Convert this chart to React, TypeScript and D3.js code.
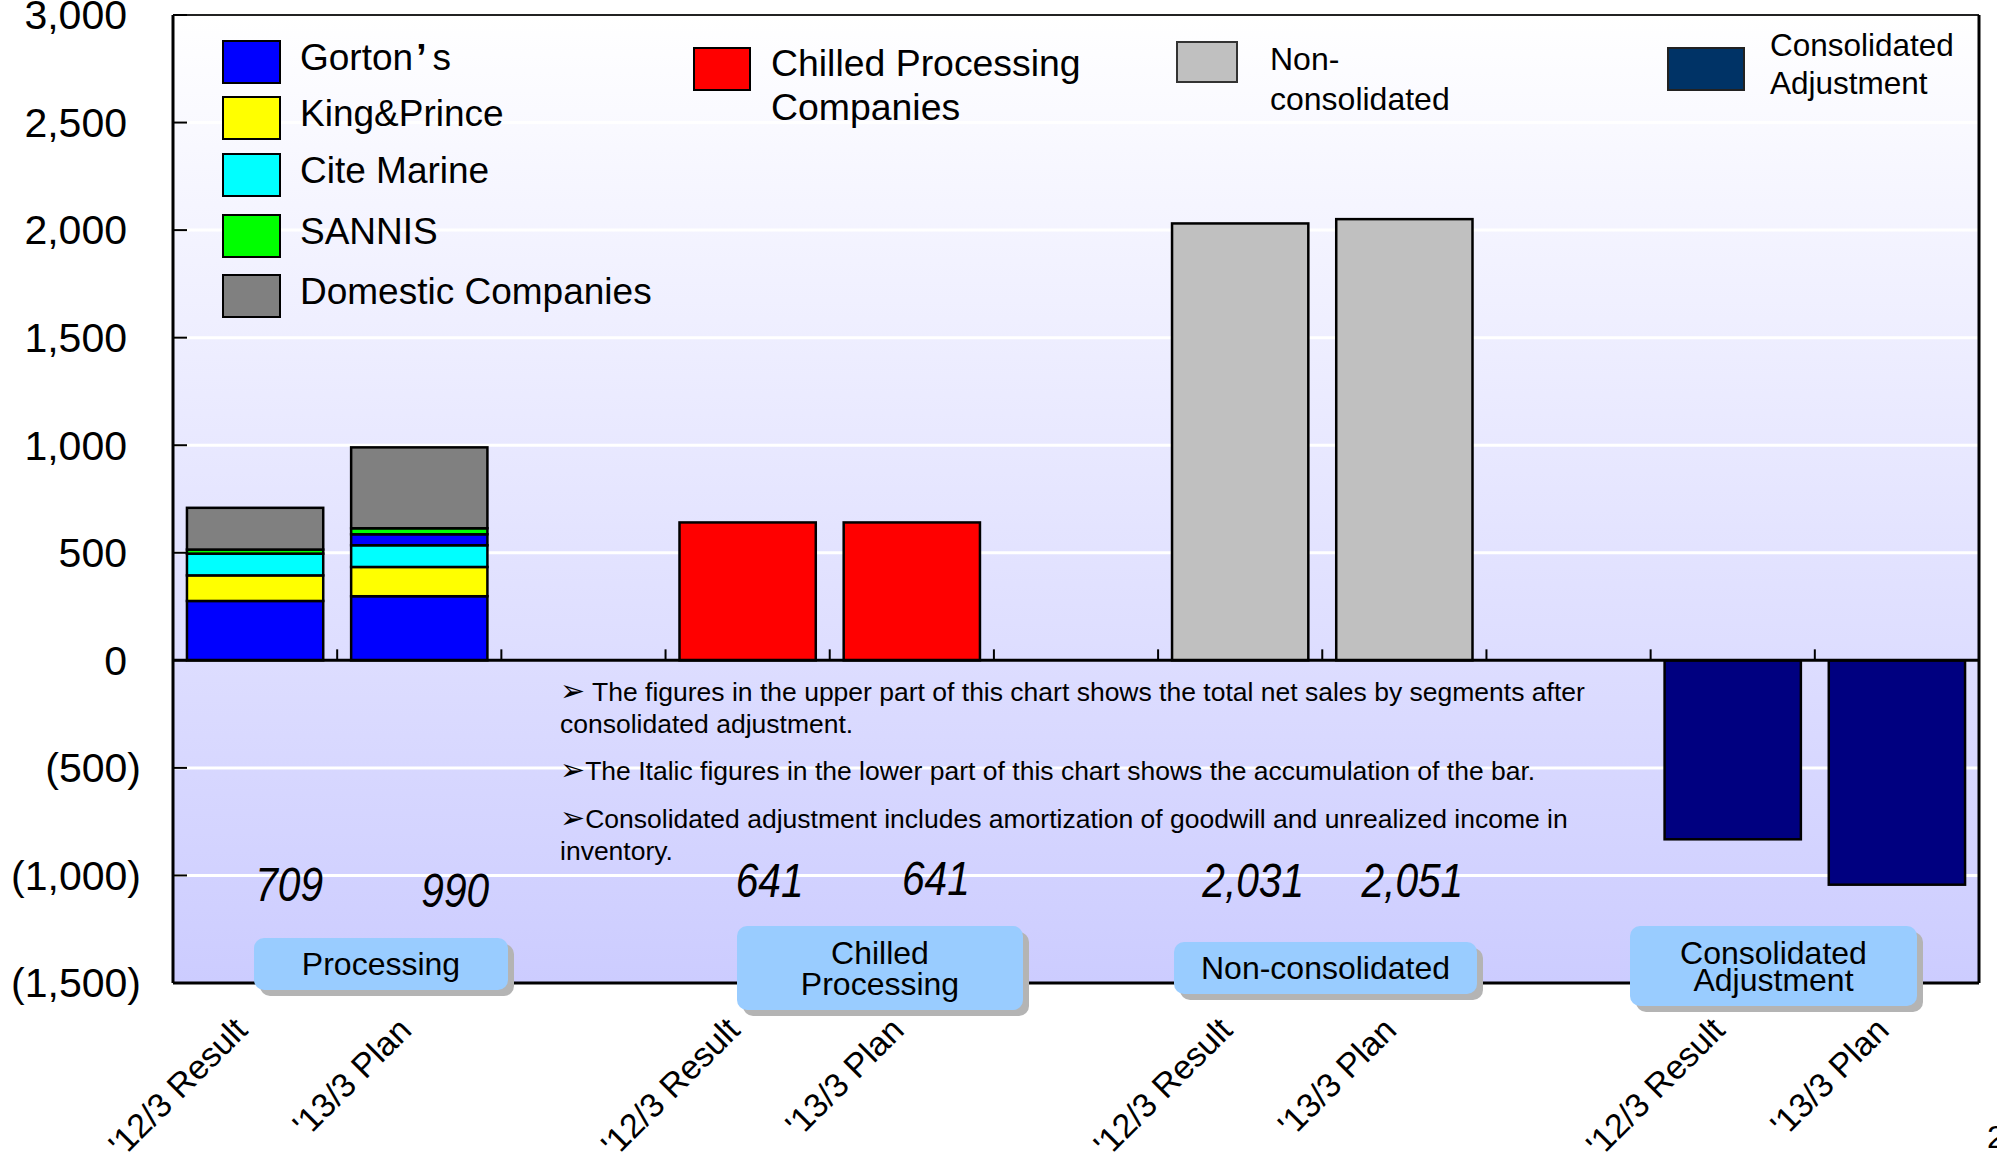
import React from 'react';
import * as d3 from 'd3';

const W = 1997;
const H = 1160;

// ---- data ----
const slotLabels = ["'12/3 Result", "'13/3 Plan", "", "'12/3 Result", "'13/3 Plan", "", "'12/3 Result", "'13/3 Plan", "", "'12/3 Result", "'13/3 Plan"];
const yTickValues = [-1500, -1000, -500, 0, 500, 1000, 1500, 2000, 2500, 3000];

const processingSlots = [0, 1];
const gortons = [276, 298];
const kingPrince = [119, 136];
const citeMarine = [101, 101];
const otherOverseas = [0, 51];
const sannis = [19, 28];
const domestic = [194, 376];

const chilledSlots = [3, 4];
const chilled = [641, 641];
const nonConsSlots = [6, 7];
const nonConsolidated = [2031, 2051];
const adjSlots = [9, 10];
const consolidatedAdj = [-832, -1043];

const totalSlots = [0, 1, 3, 4, 6, 7];
const totalLabels = ["709", "990", "641", "641", "2,031", "2,051"];

const groupNames = [["Processing"], ["Chilled", "Processing"], ["Non-consolidated"], ["Consolidated", "Adjustment"]];

const notes = [
  [" The figures in the upper part of this chart shows the total net sales by segments after", "consolidated adjustment."],
  ["The Italic figures in the lower part of this chart shows the accumulation of the bar."],
  ["Consolidated adjustment includes amortization of goodwill and unrealized income in", "inventory."],
];

// ---- styles / layout ----
const FONT = "'Liberation Sans', Arial, sans-serif";
const segKeys = ["gortons", "kingPrince", "citeMarine", "other", "sannis", "domestic"];
const segColors: Record<string, string> = {
  gortons: "#0000FF", kingPrince: "#FFFF00", citeMarine: "#00FFFF", other: "#0000FF", sannis: "#00FF00", domestic: "#808080",
};
const labelDx = [34, 36, 22, 24, 13, 8];
const labelDy = [4, 10, 0, -2, 0, 0];
const groupBoxes = [
  { x: 254, y: 938, w: 254, h: 52, lh: 30 },
  { x: 737, y: 926, w: 286, h: 84, lh: 31 },
  { x: 1174, y: 942, w: 303, h: 52, lh: 30 },
  { x: 1630, y: 926, w: 287, h: 80, lh: 27 },
];

export default function App() {
  const left = 173, right = 1979, top = 15, bottom = 983;
  const y = d3.scaleLinear().domain([-1500, 3000]).range([bottom, top]);
  const x = d3.scaleBand<number>().domain(d3.range(slotLabels.length)).range([left, right]).paddingInner(0.17).paddingOuter(0.085);
  const step = x.step();
  const bw = x.bandwidth();

  const rows = processingSlots.map((s, i) => ({
    slot: s,
    gortons: gortons[i], kingPrince: kingPrince[i], citeMarine: citeMarine[i], other: otherOverseas[i], sannis: sannis[i], domestic: domestic[i],
  }));
  const stacked = d3.stack<any>().keys(segKeys)(rows);

  const fmt = d3.format(",");
  const tickLabel = (v: number) => (v < 0 ? `(${fmt(-v)})` : fmt(v));

  const singleBars: { slot: number; v: number; color: string }[] = [];
  chilledSlots.forEach((s, i) => singleBars.push({ slot: s, v: chilled[i], color: "#FF0000" }));
  nonConsSlots.forEach((s, i) => singleBars.push({ slot: s, v: nonConsolidated[i], color: "#C0C0C0" }));
  adjSlots.forEach((s, i) => singleBars.push({ slot: s, v: consolidatedAdj[i], color: "#000080" }));

  const y0 = y(0);
  const lineYs = [[701, 733], [780], [828, 860]];

  return (
    <svg width={W} height={H} style={{ position: 'absolute', left: 0, top: 0, background: '#fff' }} fontFamily={FONT}>
      <defs>
        <linearGradient id="bg" x1="0" y1="0" x2="0" y2="1">
          <stop offset="0" stopColor="#FFFFFF" />
          <stop offset="1" stopColor="#CCCCFF" />
        </linearGradient>
      </defs>
      <rect x={left} y={top} width={right - left} height={bottom - top} fill="url(#bg)" />
      {/* gridlines */}
      {yTickValues.filter(v => v !== 0 && v !== 3000 && v !== -1500).map(v => (
        <line key={v} x1={left} x2={right} y1={y(v)} y2={y(v)} stroke="#FFFFFF" strokeWidth={3} />
      ))}

      {/* notes */}
      {notes.map((n, i) => n.map((t, j) => (
        <text key={`${i}-${j}`} x={560} y={lineYs[i][j]} fontSize={26.5} fill="#000">
          {j === 0 ? <tspan fontSize={30} fontFamily="'DejaVu Sans'">➢</tspan> : null}{t}
        </text>
      )))}

      {/* stacked processing bars */}
      {stacked.map(layer => layer.map((d: any, i: number) => {
        const h = y(d[0]) - y(d[1]);
        if (h <= 0) return null;
        return (
          <rect key={`${layer.key}-${i}`} x={x(d.data.slot)} y={y(d[1])} width={bw} height={h}
            fill={segColors[layer.key as string]} stroke="#000" strokeWidth={2.5} />
        );
      }))}

      {/* single bars */}
      {singleBars.map((b, i) => (
        <rect key={i} x={x(b.slot)} y={Math.min(y(b.v), y0)} width={bw} height={Math.abs(y(b.v) - y0)}
          fill={b.color} stroke="#000" strokeWidth={2.5} />
      ))}

      {/* zero axis */}
      <line x1={left} x2={right} y1={y0} y2={y0} stroke="#000" strokeWidth={3} />
      {d3.range(1, slotLabels.length).map(i => (
        <line key={i} x1={left + i * step} x2={left + i * step} y1={y0} y2={y0 - 11} stroke="#000" strokeWidth={2} />
      ))}

      {/* plot border */}
      <line x1={left} x2={right} y1={top} y2={top} stroke="#222" strokeWidth={2} />
      <line x1={right} x2={right} y1={top} y2={bottom} stroke="#000" strokeWidth={3} />
      <line x1={left} x2={right} y1={bottom} y2={bottom} stroke="#000" strokeWidth={3} />
      <line x1={left} x2={left} y1={top} y2={bottom} stroke="#000" strokeWidth={3} />

      {/* y ticks */}
      {yTickValues.map(v => (
        <g key={v}>
          <line x1={left} x2={left + 14} y1={y(v)} y2={y(v)} stroke="#000" strokeWidth={2} />
          <text x={v < 0 ? 141 : 127} y={y(v)} dy="0.35em" textAnchor="end" fontSize={41} fill="#000">{tickLabel(v)}</text>
        </g>
      ))}

      {/* totals */}
      {totalSlots.map((s, i) => (
        <text key={i} transform={`translate(${x(s)! + bw / 2 + labelDx[i]},${897 + labelDy[i]}) scale(0.83,1)`}
          textAnchor="middle" fontSize={49} fontStyle="italic" fill="#000">{totalLabels[i]}</text>
      ))}

      {/* group boxes */}
      {groupBoxes.map((b, i) => (
        <g key={i}>
          <rect x={b.x + 6} y={b.y + 6} width={b.w} height={b.h} rx={10} fill="#B4B4B4" />
          <rect x={b.x} y={b.y} width={b.w} height={b.h} rx={10} fill="#99CCFF" />
          {groupNames[i].map((t, j) => (
            <text key={j} x={b.x + b.w / 2} y={b.y + b.h / 2 + (j - (groupNames[i].length - 1) / 2) * b.lh}
              dy="0.35em" textAnchor="middle" fontSize={32} fill="#000">{t}</text>
          ))}
        </g>
      ))}

      {/* x labels */}
      {slotLabels.map((t, i) => t ? (
        <text key={i} transform={`translate(${x(i)! + bw / 2 - 6},1032) rotate(-45)`} textAnchor="end" fontSize={34} fill="#000">{t}</text>
      ) : null)}

      {/* legend */}
      {[
        { label: ["Gorton", "’", "s"], color: "#0000FF", y: 41 },
        { label: ["King&Prince"], color: "#FFFF00", y: 97 },
        { label: ["Cite Marine"], color: "#00FFFF", y: 154 },
        { label: ["SANNIS"], color: "#00FF00", y: 215 },
        { label: ["Domestic Companies"], color: "#808080", y: 275 },
      ].map((l, i) => (
        <g key={i}>
          <rect x={223} y={l.y} width={57} height={42} fill={l.color} stroke="#000" strokeWidth={2} />
          <text x={300} y={l.y + 16} dy="0.35em" fontSize={37} fill="#000">
            {l.label.length === 3 ? (<>{l.label[0]}<tspan dx={3} fontWeight="bold">{l.label[1]}</tspan><tspan dx={6}>{l.label[2]}</tspan></>) : l.label[0]}
          </text>
        </g>
      ))}
      <rect x={694} y={48} width={56} height={42} fill="#FF0000" stroke="#000" strokeWidth={2} />
      <text x={771} y={76} fontSize={37.4} fill="#000">Chilled Processing</text>
      <text x={771} y={120} fontSize={37.4} fill="#000">Companies</text>
      <rect x={1177} y={42} width={60} height={40} fill="#C0C0C0" stroke="#333" strokeWidth={2} />
      <text x={1270} y={70} fontSize={32} fill="#000">Non-</text>
      <text x={1270} y={110} fontSize={32} fill="#000">consolidated</text>
      <rect x={1668} y={48} width={76} height={42} fill="#003366" stroke="#222" strokeWidth={2} />
      <text x={1770} y={56} fontSize={31.5} fill="#000">Consolidated</text>
      <text x={1770} y={94} fontSize={31.5} fill="#000">Adjustment</text>

      <text x={1987} y={1148} fontSize={32} fill="#000">2</text>
    </svg>
  );
}
